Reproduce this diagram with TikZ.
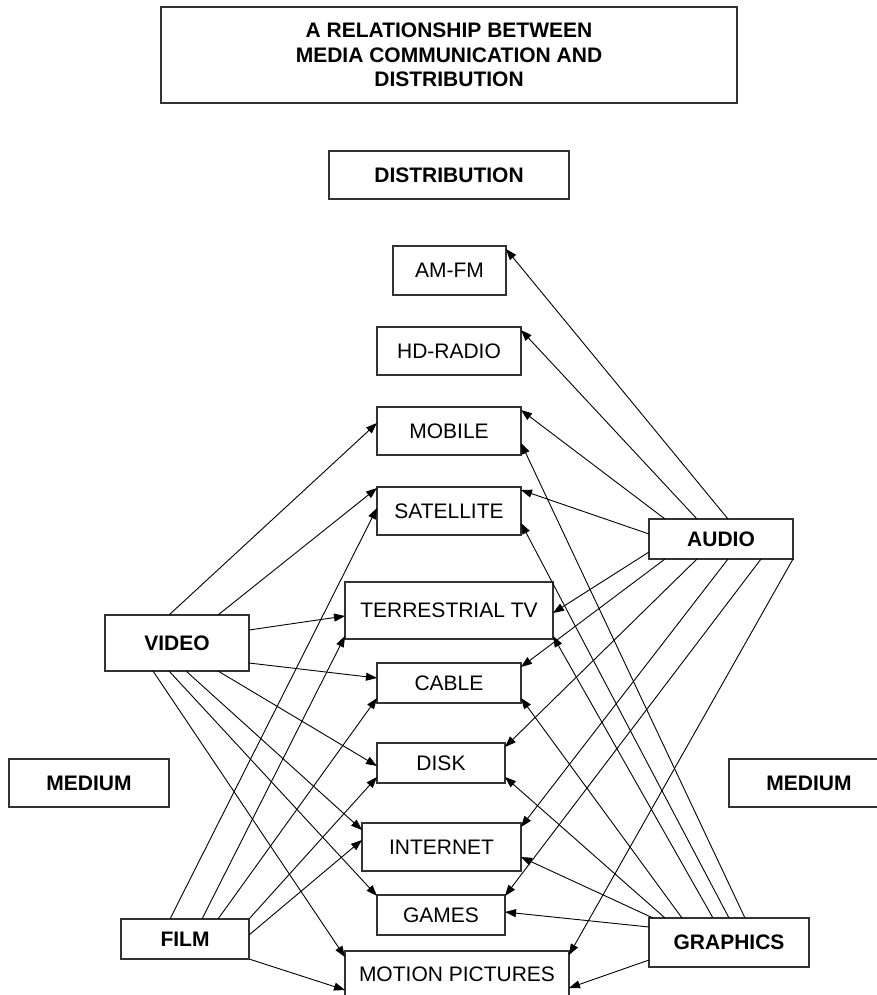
\documentclass[tikz,border=0pt]{standalone}
\usepackage{fontspec}
\setmainfont{Liberation Sans}
\usetikzlibrary{arrows.meta}
\begin{document}
\begin{tikzpicture}[x=1pt,y=-1pt,
  box/.style={draw=black!80, line width=1.3pt, inner sep=0pt, outer sep=0pt,
    font=\fontsize{21}{24.5}\selectfont, align=center},
  bbox/.style={box, font=\fontsize{21}{24.5}\selectfont\bfseries},
  arr/.style={line width=0.9pt, -{Triangle[length=11pt,width=8pt]}}]
\useasboundingbox (0,0) rectangle (877,995);
\clip (0,0) rectangle (877,995);
% boxes
\node[bbox, minimum width=576pt, minimum height=96pt] (title) at (449,55)
  {A RELATIONSHIP BETWEEN\\MEDIA COMMUNICATION AND\\DISTRIBUTION};
\node[bbox, minimum width=240pt, minimum height=48pt] (dist) at (449,175) {DISTRIBUTION};
\node[box, minimum width=113pt, minimum height=49pt] (amfm) at (449.5,270.5) {AM-FM};
\node[box, minimum width=144pt, minimum height=48pt] (hd) at (449,351) {HD-RADIO};
\node[box, minimum width=144pt, minimum height=48pt] (mobile) at (449,431) {MOBILE};
\node[box, minimum width=144pt, minimum height=48pt] (sat) at (449,511) {SATELLITE};
\node[box, minimum width=208pt, minimum height=57pt] (terr) at (449,610.5) {TERRESTRIAL TV};
\node[box, minimum width=144pt, minimum height=40pt] (cable) at (449,683) {CABLE};
\node[box, minimum width=128pt, minimum height=40pt] (disk) at (441,763) {DISK};
\node[box, minimum width=159pt, minimum height=48pt] (internet) at (441.5,847) {INTERNET};
\node[box, minimum width=128pt, minimum height=40pt] (games) at (441,915) {GAMES};
\node[box, minimum width=224pt, minimum height=47pt] (motion) at (457,974.5) {MOTION PICTURES};
\node[bbox, minimum width=144pt, minimum height=56pt] (video) at (177,643) {VIDEO};
\node[bbox, minimum width=128pt, minimum height=40pt] (film) at (185,939) {FILM};
\node[bbox, minimum width=144pt, minimum height=40pt] (audio) at (721,539) {AUDIO};
\node[bbox, minimum width=160pt, minimum height=49pt] (graphics) at (729,942.5) {GRAPHICS};
\node[bbox, minimum width=160pt, minimum height=48pt] (medl) at (89,783) {MEDIUM};
\node[bbox, minimum width=160pt, minimum height=48pt] (medr) at (809,783) {MEDIUM};
% audio
\draw[arr] ([xshift=79pt]audio.north west) -- ([yshift=-3pt]amfm.north east);
\draw[arr] ([xshift=48pt]audio.north west) -- ([yshift=-3pt]hd.north east);
\draw[arr] ([xshift=16pt]audio.north west) -- ([yshift=-3pt]mobile.north east);
\draw[arr] ([yshift=-15pt]audio.north west) -- ([yshift=-3pt]sat.north east);
\draw[arr] ([yshift=-33pt]audio.north west) -- ([yshift=-31pt]terr.north east);
\draw[arr] ([xshift=16pt]audio.south west) -- ([yshift=-4pt]cable.north east);
\draw[arr] ([xshift=48pt]audio.south west) -- ([yshift=-4pt]disk.north east);
\draw[arr] ([xshift=79pt]audio.south west) -- ([yshift=-4pt]internet.north east);
\draw[arr] ([xshift=112pt]audio.south west) -- ([yshift=-1pt]games.north east);
\draw[arr] (audio.south east) -- ([yshift=-4pt]motion.north east);
% graphics
\draw[arr] ([xshift=16pt]graphics.north west) -- ([yshift=6pt]disk.south east);
\draw[arr] ([xshift=33pt]graphics.north west) -- ([yshift=5pt]cable.south east);
\draw[arr] ([xshift=64pt]graphics.north west) -- ([yshift=3pt]terr.south east);
\draw[arr] ([xshift=80pt]graphics.north west) -- ([yshift=12pt]sat.south east);
\draw[arr] ([xshift=96pt]graphics.north west) -- ([yshift=-36pt]mobile.north east);
\draw[arr] ([xshift=4pt]graphics.north west) -- ([yshift=-34pt]internet.north east);
\draw[arr] ([yshift=-9pt]graphics.north west) -- ([yshift=-17pt]games.north east);
\draw[arr] ([yshift=-42pt]graphics.north west) -- ([yshift=-37pt]motion.north east);
% video
\draw[arr] ([xshift=64pt]video.north west) -- ([yshift=-16pt]mobile.north west);
\draw[arr] ([xshift=113pt]video.north west) -- ([yshift=-1pt]sat.north west);
\draw[arr] ([yshift=-15pt]video.north east) -- ([yshift=-34pt]terr.north west);
\draw[arr] ([yshift=-48pt]video.north east) -- ([yshift=-15pt]cable.north west);
\draw[arr] ([xshift=113pt]video.south west) -- ([yshift=-23pt]disk.north west);
\draw[arr] ([xshift=81pt]video.south west) -- ([yshift=-7pt]internet.north west);
\draw[arr] ([xshift=64pt]video.south west) -- ([yshift=-1pt]games.north west);
\draw[arr] ([xshift=48pt]video.south west) -- ([yshift=-6pt]motion.north west);
% film
\draw[arr] ([xshift=49pt]film.north west) -- ([yshift=-21pt]sat.north west);
\draw[arr] ([xshift=81pt]film.north west) -- ([yshift=3pt]terr.south west);
\draw[arr] ([xshift=97pt]film.north west) -- ([yshift=5pt]cable.south west);
\draw[arr] (film.north east) -- ([yshift=6pt]disk.south west);
\draw[arr] ([yshift=-16pt]film.north east) -- ([yshift=-17pt]internet.north west);
\draw[arr] (film.south east) -- ([yshift=-39pt]motion.north west);
\end{tikzpicture}
\end{document}
